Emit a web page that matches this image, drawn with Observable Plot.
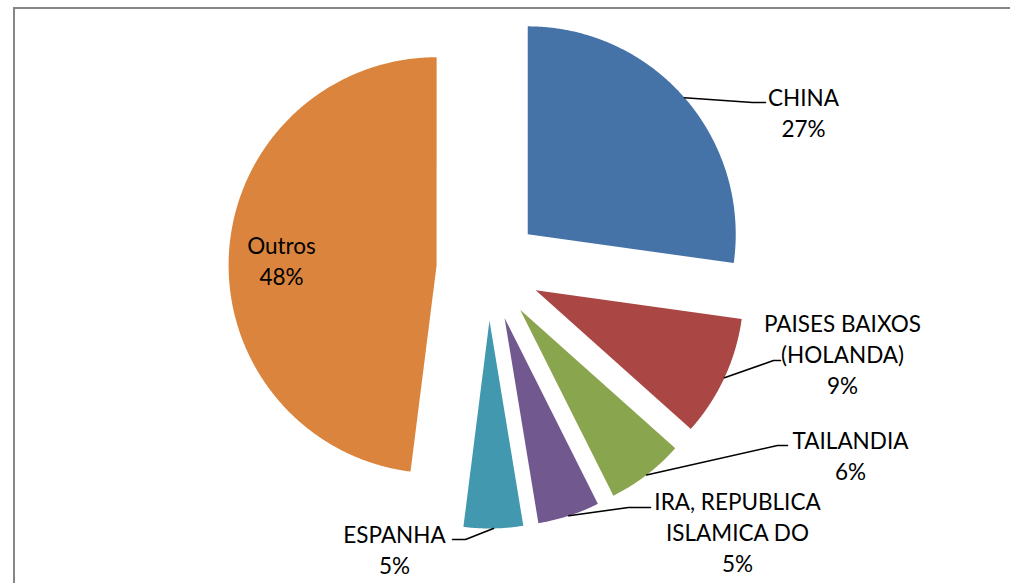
<!DOCTYPE html>
<html><head><meta charset="utf-8">
<script src="https://cdn.jsdelivr.net/npm/d3@7"></script>
<script src="https://cdn.jsdelivr.net/npm/@observablehq/plot@0.6"></script>
<style>
html,body{margin:0;padding:0;background:#fff;overflow:hidden}
#wrap{position:relative;width:1010px;height:583px;overflow:hidden}
#frame{position:absolute;left:13px;top:7px;width:1200px;height:800px;border-top:2px solid #868686;border-left:2px solid #868686;pointer-events:none}
</style></head><body><div id="wrap"></div>
<script>
// ---- data ----
const categories = ["CHINA", "PAISES BAIXOS (HOLANDA)", "TAILANDIA", "IRA, REPUBLICA ISLAMICA DO", "ESPANHA", "Outros"];
const labelLines = [["CHINA"], ["PAISES BAIXOS", "(HOLANDA)"], ["TAILANDIA"], ["IRA, REPUBLICA", "ISLAMICA DO"], ["ESPANHA"], ["Outros"]];
const shares = [27.2, 9.4, 6.0, 4.8, 4.6, 48.0];
const colors = ["#4572A7", "#AA4643", "#89A54E", "#71588F", "#4198AF", "#DB843D"];

// ---- layout (pixels) ----
const W = 1010, H = 583, CX = 488, CY = 268, R = 208, EXPLODE = 52;
// label block centre, leader knee and leader end, relative to pie centre (px)
const labelPos = [[315, -157], [354, 85], [362, 186], [249, 263], [-94, 280], [-207, -9]];
const leaderKnee = [[264, -166], [285, 92], [289, 177], [140, 239], [-23, 271], null];
const leaderEnd = [[277, -166], [292, 92], [299, 177], [162, 239], [-36, 271], null];

// ---- geometry in radius units (y up) ----
const data = categories.map((name, i) => ({name, share: shares[i], i}));
const arcs = d3.pie().sort(null).value(d => d.share).startAngle(0).endAngle(2 * Math.PI)(data);
const e = EXPLODE / R;
const slicePts = [];
const leaderPts = [];
const labels = [];
arcs.forEach(a => {
  const d = a.data;
  const mid = (a.startAngle + a.endAngle) / 2;
  const ox = e * Math.sin(mid), oy = e * Math.cos(mid);
  slicePts.push({name: d.name, x: ox, y: oy});
  const n = Math.max(2, Math.ceil((a.endAngle - a.startAngle) / 0.005));
  for (let k = 0; k <= n; k++) {
    const t = a.startAngle + (a.endAngle - a.startAngle) * k / n;
    slicePts.push({name: d.name, x: ox + Math.sin(t), y: oy + Math.cos(t)});
  }
  slicePts.push({name: d.name, x: ox, y: oy});
  const pct = Math.round(d.share) + "%";
  labels.push({
    name: d.name,
    x: labelPos[d.i][0] / R,
    y: -labelPos[d.i][1] / R,
    text: labelLines[d.i].join("\n") + "\n" + pct
  });
  if (leaderKnee[d.i]) {
    leaderPts.push({name: d.name, x: ox + Math.sin(mid), y: oy + Math.cos(mid)});
    leaderPts.push({name: d.name, x: leaderKnee[d.i][0] / R, y: -leaderKnee[d.i][1] / R});
    leaderPts.push({name: d.name, x: leaderEnd[d.i][0] / R, y: -leaderEnd[d.i][1] / R});
  }
});

const chart = Plot.plot({
  width: W, height: H, margin: 0,
  x: {domain: [-CX / R, (W - CX) / R], axis: null},
  y: {domain: [-(H - CY) / R, CY / R], axis: null},
  color: {domain: categories, range: colors},
  style: {background: "transparent", overflow: "visible"},
  marks: [
    Plot.line(slicePts, {x: "x", y: "y", z: "name", fill: "name", stroke: "none", curve: "linear"}),
    Plot.line(leaderPts, {x: "x", y: "y", z: "name", stroke: "#000", strokeWidth: 1.6, curve: "linear"}),
    Plot.text(labels, {x: "x", y: "y", text: "text", textAnchor: "middle", lineAnchor: "middle",
      lineHeight: 1.38, fontSize: 22.5, fontFamily: "Lato", fill: "#000"})
  ]
});
const wrap = document.getElementById("wrap");
wrap.appendChild(chart);
const fr = document.createElement("div");
fr.id = "frame";
wrap.appendChild(fr);
</script></body></html>
